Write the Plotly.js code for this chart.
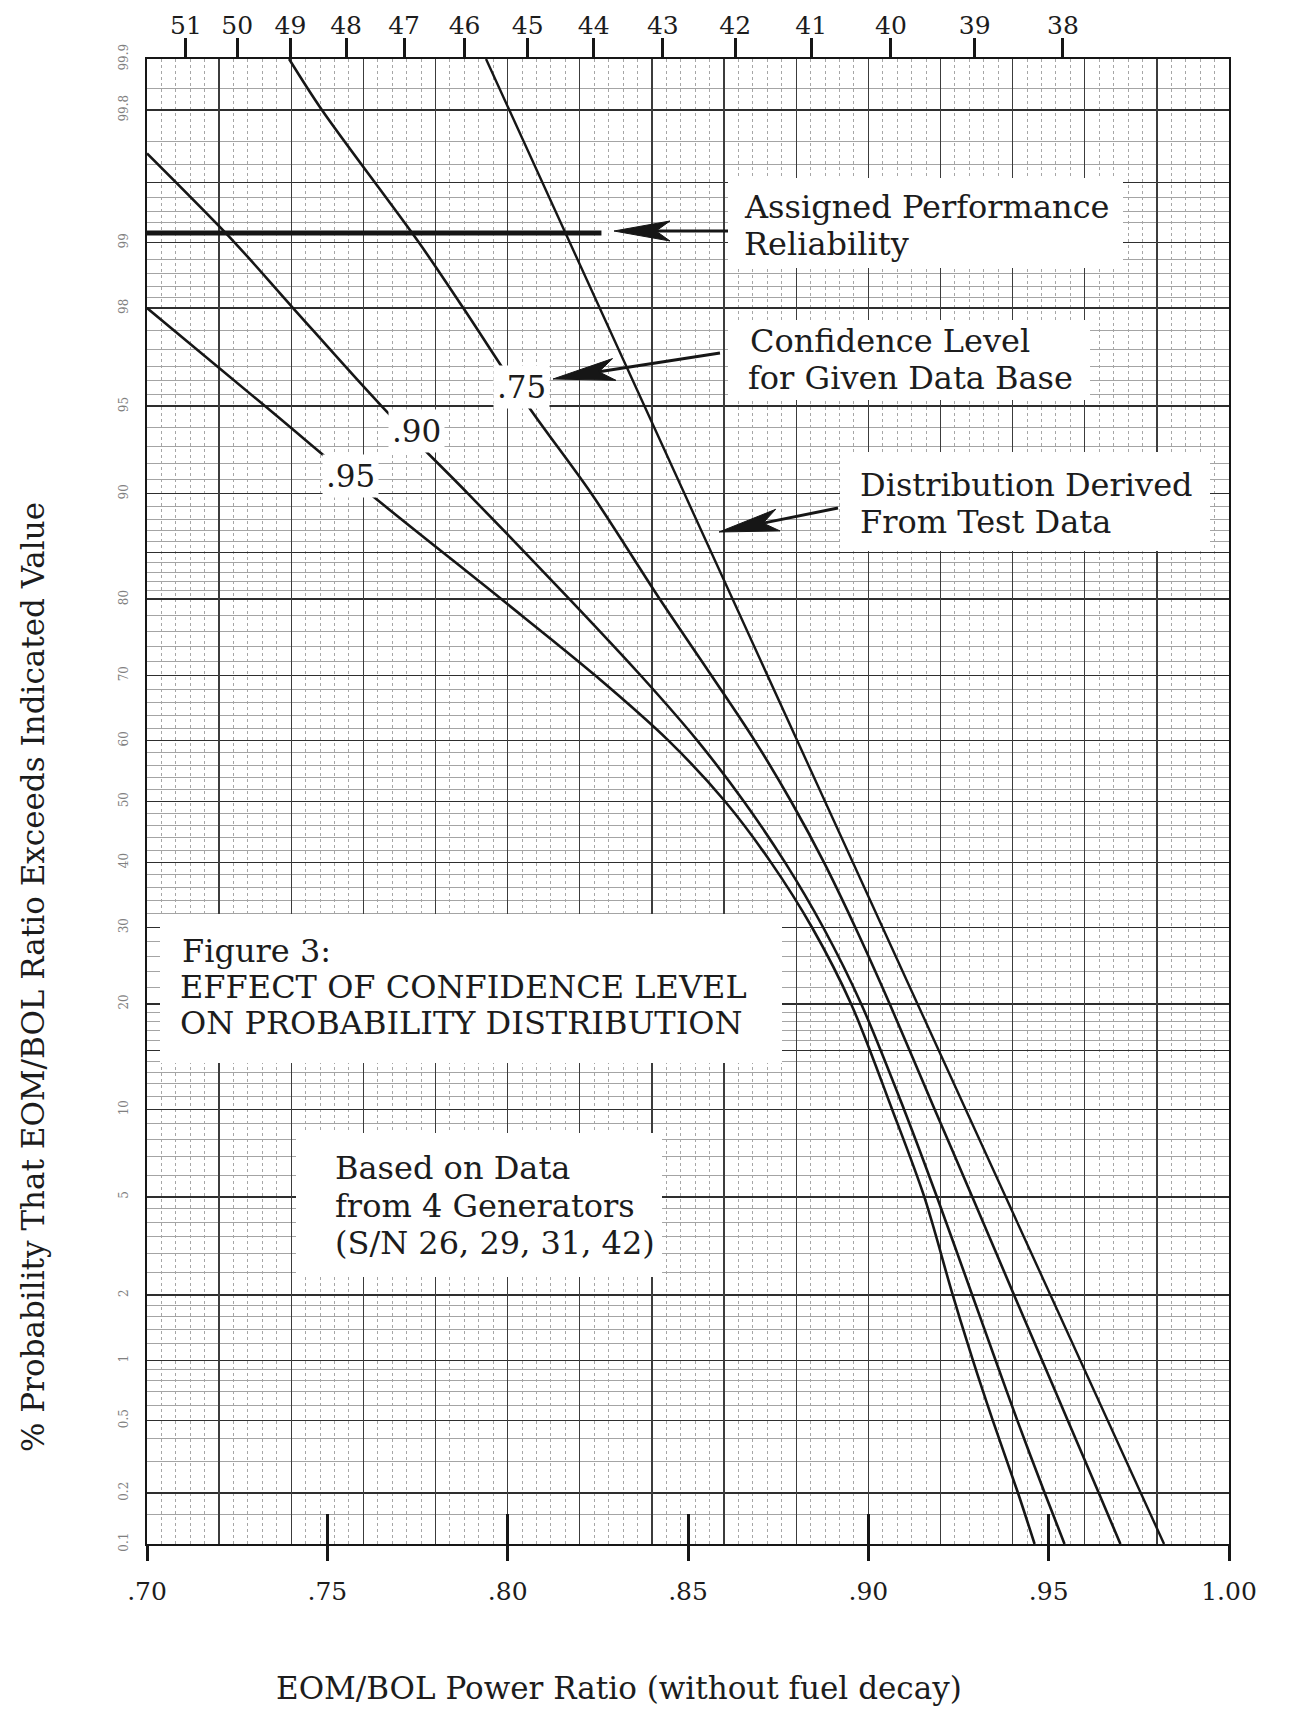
<!DOCTYPE html>
<html>
<head>
<meta charset="utf-8">
<script src="https://cdn.plot.ly/plotly-3.0.1.min.js"></script>
<style>html,body{margin:0;padding:0;background:#fff}</style>
</head>
<body>
<div id="chart" style="width:1292px;height:1710px"></div>
<script>
// ---- Curves: % probability that the EOM/BOL ratio exceeds the value, and the ratio ----
const testDataPct   = [99.9, 90, 50, 10, 0.1];
const testDataRatio = [0.794, 0.849, 0.888, 0.927, 0.982];

const conf75Pct   = [99.9, 99.8, 99, 98, 95, 90, 80, 70, 60, 50, 40, 30, 20, 10, 5, 2, 1, 0.5, 0.2, 0.1];
const conf75Ratio = [0.7394, 0.7485, 0.7754, 0.7877, 0.8057, 0.8232, 0.8422, 0.8565, 0.8685, 0.8786,
                     0.8877, 0.8964, 0.9059, 0.9184, 0.9288, 0.9404, 0.9482, 0.9553, 0.9639, 0.9699];

const conf90Pct   = [99.65, 99, 98, 95, 90, 80, 70, 60, 50, 40, 30, 20, 10, 5, 2, 1, 0.5, 0.2, 0.1];
const conf90Ratio = [0.700, 0.7243, 0.7405, 0.7651, 0.7890, 0.8172, 0.8369, 0.8526, 0.8655, 0.8769,
                     0.8875, 0.8980, 0.9099, 0.9190, 0.9288, 0.9353, 0.9413, 0.9489, 0.9544];

const conf95Pct   = [98, 95, 90, 80, 70, 60, 50, 40, 30, 20, 10, 5, 2, 1, 0.5, 0.2, 0.1];
const conf95Ratio = [0.700, 0.7328, 0.7617, 0.7983, 0.8243, 0.8446, 0.8603, 0.8730, 0.8844, 0.8952,
                     0.9066, 0.9155, 0.9234, 0.9290, 0.9345, 0.9415, 0.9461];

const confLabels = ['.75', '.90', '.95'];

// Assigned performance reliability level
const assignedReliabilityPct = 99.1;
const reliabilityLineRatio = [0.70, 0.826];

// ---- Axis ticks ----
const ratioTicks    = [0.70, 0.75, 0.80, 0.85, 0.90, 0.95, 1.00];
const ratioTickText = ['.70', '.75', '.80', '.85', '.90', '.95', '1.00'];
const powerTicks    = [51, 50, 49, 48, 47, 46, 45, 44, 43, 42, 41, 40, 39, 38];
const eomPowerW     = 36.25;   // top scale: ratio = EOM watts / BOL watts

const pctTicks    = [99.9, 99.8, 99.5, 99, 98, 95, 90, 85, 80, 70, 60, 50, 40, 30, 20, 15, 10, 5, 2, 1, 0.5, 0.2, 0.1];
const pctTickText = ['99.9', '99.8', '', '99', '98', '95', '90', '', '80', '70', '60', '50', '40', '30', '20', '', '10', '5', '2', '1', '0.5', '0.2', '0.1'];
const pctMinor = [0.15, 0.3, 0.4, 0.6, 0.7, 0.8, 0.9, 1.2, 1.4, 1.6, 1.8, 2.5, 3, 3.5, 4, 4.5,
                  6, 7, 8, 9, 11, 12, 13, 14, 16, 17, 18, 19, 22, 24, 26, 28, 32, 34, 36, 38,
                  42, 44, 46, 48, 52, 54, 56, 58, 62, 64, 66, 68, 72, 74, 76, 78,
                  81, 82, 83, 84, 86, 87, 88, 89, 91, 92, 93, 94, 95.5, 96, 96.5, 97, 97.5,
                  98.2, 98.4, 98.6, 98.8, 99.2, 99.3, 99.4, 99.6, 99.7, 99.85];

// ---- Normal probability scale (inverse normal CDF, Acklam) ----
function probit(p) {
  const a = [-3.969683028665376e+01, 2.209460984245205e+02, -2.759285104469687e+02,
              1.383577518672690e+02, -3.066479806614716e+01, 2.506628277459239e+00];
  const b = [-5.447609879822406e+01, 1.615858368580409e+02, -1.556989798598866e+02,
              6.680131188771972e+01, -1.328068155288572e+01];
  const c = [-7.784894002430293e-03, -3.223964580411365e-01, -2.400758277161838e+00,
             -2.549732539343734e+00, 4.374664141464968e+00, 2.938163982698783e+00];
  const d = [7.784695709041462e-03, 3.224671290700398e-01, 2.445134137142996e+00,
             3.754408661907416e+00];
  const plow = 0.02425, phigh = 1 - plow;
  let q, r;
  if (p < plow) {
    q = Math.sqrt(-2 * Math.log(p));
    return (((((c[0]*q + c[1])*q + c[2])*q + c[3])*q + c[4])*q + c[5]) /
           ((((d[0]*q + d[1])*q + d[2])*q + d[3])*q + 1);
  }
  if (p <= phigh) {
    q = p - 0.5; r = q * q;
    return (((((a[0]*r + a[1])*r + a[2])*r + a[3])*r + a[4])*r + a[5]) * q /
           (((((b[0]*r + b[1])*r + b[2])*r + b[3])*r + b[4])*r + 1);
  }
  q = Math.sqrt(-2 * Math.log(1 - p));
  return -(((((c[0]*q + c[1])*q + c[2])*q + c[3])*q + c[4])*q + c[5]) /
          ((((d[0]*q + d[1])*q + d[2])*q + d[3])*q + 1);
}
const Z = pct => probit(pct / 100);

// ---- Page geometry helpers (pixel -> paper fraction) ----
const M = {l: 147, r: 63, t: 59, b: 166};
const PW = 1292 - M.l - M.r, PH = 1710 - M.t - M.b;
const px = x => (x - M.l) / PW;
const py = y => 1 - (y - M.t) / PH;

const SERIF = 'DejaVu Serif, Liberation Serif, serif';
const INK = '#161616';
const TXT = '#1c1c1c';

// ---- Traces ----
const curve = (xs, ps, name, w) => ({
  type: 'scatter', mode: 'lines', name: name,
  x: xs, y: ps.map(Z),
  line: {color: INK, width: w, shape: 'spline', smoothing: 0.9},
  hoverinfo: 'skip', showlegend: false
});
const dummy = (xa, ya) => ({type: 'scatter', mode: 'markers', x: [0.7], y: [0], xaxis: xa, yaxis: ya,
  marker: {opacity: 0}, hoverinfo: 'skip', showlegend: false});

const traces = [
  dummy('x2', 'y'), dummy('x3', 'y'), dummy('x4', 'y'), dummy('x', 'y2'),
  curve(testDataRatio, testDataPct, 'Distribution Derived From Test Data', 2.4),
  curve(conf75Ratio, conf75Pct, 'Confidence ' + confLabels[0], 2.6),
  curve(conf90Ratio, conf90Pct, 'Confidence ' + confLabels[1], 2.6),
  curve(conf95Ratio, conf95Pct, 'Confidence ' + confLabels[2], 2.6),
  {type: 'scatter', mode: 'lines', name: 'Assigned Performance Reliability',
   x: reliabilityLineRatio, y: reliabilityLineRatio.map(() => Z(assignedReliabilityPct)),
   line: {color: INK, width: 5}, hoverinfo: 'skip', showlegend: false}
];

// ---- Shapes: white text panels and arrows ----
const panel = (x0, y0, x1, y1) => ({type: 'rect', xref: 'paper', yref: 'paper', layer: 'above',
  x0: px(x0), x1: px(x1), y0: py(y1), y1: py(y0), fillcolor: '#ffffff', line: {width: 0}});

function arrow(tip, tail, len, half) {
  const dx = tail[0] - tip[0], dy = tail[1] - tip[1];
  const n = Math.hypot(dx, dy), ux = dx / n, uy = dy / n;
  const bx = tip[0] + ux * len, by = tip[1] + uy * len;
  const nx = tip[0] + ux * len * 0.75, ny = tip[1] + uy * len * 0.75;
  const p1 = [bx - uy * half, by + ux * half], p2 = [bx + uy * half, by - ux * half];
  const P = p => px(p[0]) + ',' + py(p[1]);
  return [
    {type: 'path', xref: 'paper', yref: 'paper', layer: 'above',
     path: 'M' + P(tip) + 'L' + P(p1) + 'L' + P([nx, ny]) + 'L' + P(p2) + 'Z',
     fillcolor: INK, line: {color: INK, width: 1}},
    {type: 'line', xref: 'paper', yref: 'paper', layer: 'above',
     x0: px(nx), y0: py(ny), x1: px(tail[0]), y1: py(tail[1]), line: {color: INK, width: 3}}
  ];
}

const shapes = [
  panel(728, 178, 1123, 268),
  panel(728, 320, 1090, 400),
  panel(840, 452, 1210, 551),
  panel(160, 914, 782, 1063),
  panel(296, 1133, 662, 1277),
  ...arrow([614, 231], [728, 231], 56, 10),
  ...arrow([553, 379], [720, 353], 62, 11),
  ...arrow([719, 532], [838, 508], 60, 11)
];

// ---- Annotations ----
const textLine = (t, x, y) => ({xref: 'paper', yref: 'paper', x: px(x), y: py(y),
  xanchor: 'left', yanchor: 'middle', text: t, showarrow: false,
  font: {family: SERIF, size: 32, color: TXT}});
const curveLabel = (t, ratio, pct) => ({xref: 'x', yref: 'y', x: ratio, y: Z(pct),
  xanchor: 'center', yanchor: 'middle',
  text: t, showarrow: false, bgcolor: '#ffffff', borderpad: 3,
  font: {family: SERIF, size: 31, color: TXT}});

const annotations = [
  textLine('Assigned Performance', 742, 207),
  textLine('Reliability', 742, 244),
  textLine('Confidence Level', 748, 341),
  textLine('for Given Data Base', 746, 378),
  textLine('Distribution Derived', 858, 485),
  textLine('From Test Data', 858, 522),
  textLine('Figure 3:', 180, 951),
  textLine('EFFECT OF CONFIDENCE LEVEL', 178, 987),
  textLine('ON PROBABILITY DISTRIBUTION', 178, 1023),
  textLine('Based on Data', 333, 1168),
  textLine('from 4 Generators', 333, 1206),
  textLine('(S/N 26, 29, 31, 42)', 333, 1243),
  curveLabel(confLabels[0], 0.8037, 95.77),
  curveLabel(confLabels[1], 0.7746, 93.83),
  curveLabel(confLabels[2], 0.7563, 91.25),
  {xref: 'paper', yref: 'paper', x: px(33), y: py(977), xanchor: 'center', yanchor: 'middle',
   textangle: -90, showarrow: false,
   text: '% Probability That EOM/BOL Ratio Exceeds Indicated Value',
   font: {family: SERIF, size: 31, color: TXT}},
  {xref: 'paper', yref: 'paper', x: px(619), y: py(1688), xanchor: 'center', yanchor: 'middle',
   showarrow: false,
   text: 'EOM/BOL Power Ratio (without fuel decay)',
   font: {family: SERIF, size: 31, color: TXT}}
];

// ---- Layout ----
const xr = [0.70, 1.00];
const yr = [Z(0.1), Z(99.9)];
const baseX = {range: xr, fixedrange: true, zeroline: false, showgrid: false};

const layout = {
  width: 1292, height: 1710,
  margin: M,
  paper_bgcolor: '#ffffff', plot_bgcolor: '#ffffff',
  showlegend: false,
  xaxis: Object.assign({}, baseX, {
    tickmode: 'array', tickvals: ratioTicks, ticktext: ratioTickText,
    ticks: 'outside', ticklen: 15, tickwidth: 3, tickcolor: INK,
    ticklabelstandoff: 9,
    tickfont: {family: SERIF, size: 25, color: TXT},
    showline: true, linecolor: INK, linewidth: 2, mirror: true
  }),
  xaxis2: Object.assign({}, baseX, {
    overlaying: 'x', side: 'top', anchor: 'y',
    tickmode: 'array', tickvals: powerTicks.map(w => eomPowerW / w), ticktext: powerTicks.map(String),
    ticks: 'outside', ticklen: 20, tickwidth: 3, tickcolor: INK,
    ticklabelstandoff: -6,
    tickfont: {family: SERIF, size: 25, color: TXT},
    showline: false
  }),
  xaxis3: Object.assign({}, baseX, {
    overlaying: 'x', side: 'bottom', anchor: 'y',
    tick0: 0.70, dtick: 0.02, showticklabels: false, ticks: '',
    showgrid: true, gridcolor: '#3c3c3c', gridwidth: 1.3,
    minor: {tick0: 0.70, dtick: 0.004, showgrid: true, gridcolor: '#a6a6a6', gridwidth: 1, griddash: 'dot'},
    showline: false
  }),
  xaxis4: Object.assign({}, baseX, {
    overlaying: 'x', side: 'bottom', anchor: 'y',
    tickmode: 'array', tickvals: ratioTicks, showticklabels: false,
    ticks: 'inside', ticklen: 30, tickwidth: 3, tickcolor: INK,
    showline: false
  }),
  yaxis: {
    range: yr, fixedrange: true, zeroline: false,
    tickmode: 'array', tickvals: pctTicks.map(Z), ticktext: pctTickText,
    tickangle: -90, ticks: '', ticklabelstandoff: 12,
    tickfont: {family: SERIF, size: 12, color: '#808080'},
    showgrid: true, gridcolor: '#2e2e2e', gridwidth: 1.6,
    showline: true, linecolor: INK, linewidth: 2, mirror: true
  },
  yaxis2: {
    range: yr, fixedrange: true, zeroline: false, overlaying: 'y', side: 'left', anchor: 'x',
    tickmode: 'array', tickvals: pctMinor.map(Z), showticklabels: false, ticks: '',
    showgrid: true, gridcolor: '#a4a4a4', gridwidth: 1,
    showline: false
  },
  shapes: shapes,
  annotations: annotations
};

Plotly.newPlot('chart', traces, layout, {staticPlot: true, displayModeBar: false});
</script>
</body>
</html>
